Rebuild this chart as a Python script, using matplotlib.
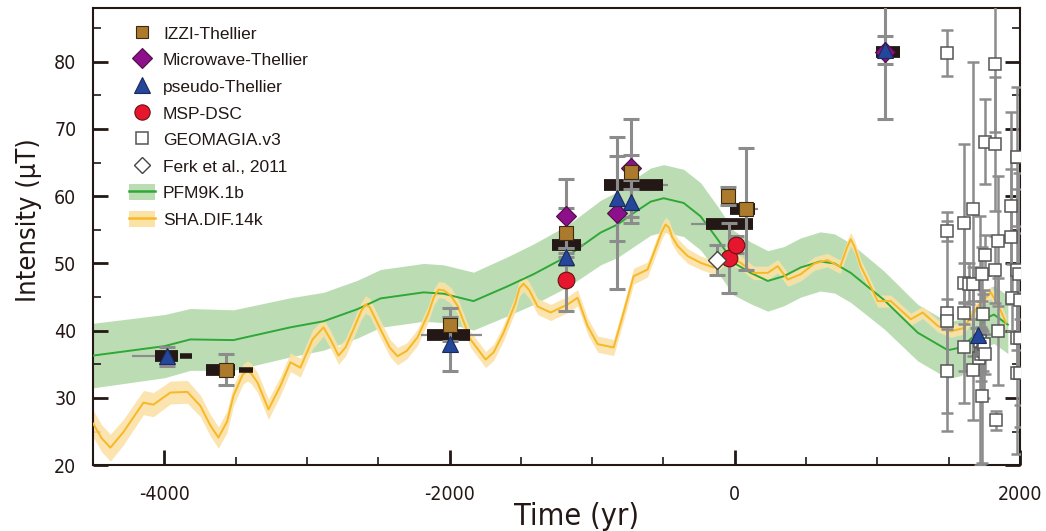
import matplotlib
matplotlib.use("Agg")
import matplotlib.pyplot as plt
import numpy as np
from matplotlib.patches import Patch
from matplotlib.lines import Line2D

plt.rcParams["axes.unicode_minus"] = False

# ---- model curves ----
pfm_t = [-4500, -4000, -3818, -3516, -3116, -2884, -2646, -2484, -2182, -2042,
         -1832, -1593, -1411, -1172, -940, -821, -709, -589, -498, -358, -239,
         -120, -7, 112, 232, 344, 463, 600, 700, 814, 1046, 1284, 1495, 1586,
         1705, 1747, 1818, 1916]
pfm_f = [36.3, 37.7, 38.7, 38.6, 40.5, 41.4, 43.2, 44.8, 45.7, 45.5,
         44.4, 46.6, 48.4, 51.1, 54.6, 55.8, 57.5, 59.2, 59.7, 59.0, 57.0,
         53.6, 50.1, 48.6, 47.4, 48.1, 49.4, 50.3, 50.0, 48.6, 44.6, 39.7, 37.1, 37.5,
         39.7, 41.7, 42.4, 40.9]
pfm_err = [4.8, 4.7, 4.6, 4.5, 4.4, 4.3, 4.3, 4.3, 4.3, 4.3,
           4.3, 4.4, 4.5, 4.6, 4.8, 4.9, 5.0, 5.0, 5.0, 5.0, 5.0,
           4.9, 4.8, 4.6, 4.5, 4.4, 4.4, 4.4, 4.4, 4.4, 4.3, 4.2, 4.2, 4.2,
           4.2, 4.2, 4.3, 4.3]

sha_t = [-4500, -4440, -4379, -4288, -4147, -4077, -3958, -3839, -3747, -3680,
         -3621, -3560, -3516, -3450, -3418, -3390, -3347, -3270, -3186, -3116,
         -3046, -2961, -2884, -2830, -2779, -2730, -2674, -2620, -2589, -2560,
         -2484, -2420, -2365, -2300, -2225, -2150, -2110, -2077, -2040, -1990,
         -1944, -1853, -1747, -1690, -1621, -1540, -1510, -1481, -1440, -1382,
         -1291, -1172, -1102, -1032, -961, -849, -779, -709, -611, -540,
         -510, -484, -460, -440, -400, -330, -239, -147, -49, 42,
         133, 232, 302, 372, 463, 560, 650, 740, 790, 814,
         840, 884, 1003, 1095, 1235, 1319, 1425, 1516, 1607, 1705,
         1796, 1853, 1902]
sha_f = [26.2, 24.0, 22.6, 24.9, 29.3, 29.0, 30.8, 30.9, 28.8, 26.0,
         24.1, 26.5, 30.3, 33.5, 34.0, 33.6, 32.3, 28.3, 31.8, 35.3,
         34.5, 38.7, 40.5, 38.5, 36.3, 37.5, 40.2, 42.9, 43.9, 43.5,
         40.2, 37.5, 36.2, 37.0, 39.0, 42.5, 45.0, 46.1, 46.0, 45.2,
         43.7, 38.7, 35.7, 36.8, 39.7, 44.0, 46.3, 47.0, 46.0, 43.6,
         42.7, 43.9, 44.9, 40.7, 38.0, 37.5, 42.7, 48.1, 49.1, 53.1,
         54.8, 55.8, 55.3, 54.0, 52.6, 51.1, 50.1, 49.4, 51.1, 50.1,
         48.6, 48.6, 49.6, 47.6, 48.4, 50.0, 50.5, 49.5, 52.5, 53.6,
         52.5, 49.6, 44.4, 44.4, 41.7, 42.7, 40.7, 39.9, 40.4, 43.6,
         45.7, 43.6, 41.2]
sha_err = [2.0, 2.0, 2.0, 1.9, 1.8, 1.8, 1.7, 1.7, 1.6, 1.6,
           1.6, 1.6, 1.5, 1.5, 1.5, 1.5, 1.5, 1.5, 1.4, 1.4,
           1.4, 1.4, 1.3, 1.3, 1.3, 1.3, 1.3, 1.3, 1.3, 1.3,
           1.3, 1.3, 1.3, 1.2, 1.2, 1.2, 1.2, 1.2, 1.2, 1.2,
           1.2, 1.2, 1.2, 1.2, 1.2, 1.2, 1.2, 1.2, 1.2, 1.2,
           1.2, 1.2, 1.2, 1.2, 1.2, 1.2, 1.2, 1.2, 1.1, 1.1,
           1.1, 1.1, 1.1, 1.1, 1.1, 1.1, 1.0, 1.0, 1.0, 1.0,
           1.0, 1.0, 1.0, 1.0, 1.0, 1.0, 1.0, 1.0, 1.0, 1.0,
           1.0, 1.0, 0.9, 0.9, 0.9, 0.9, 0.9, 0.9, 0.9, 0.9,
           0.9, 0.9, 0.9]

# ---- archaeointensity results ----
izzi_t = [-3565, -1998, -1186, -724, -49, 77]
izzi_f = [34.2, 40.9, 54.6, 63.6, 60.0, 58.1]
izzi_err = [2.3, 2.5, 3.6, 2.6, 1.3, 9.0]

mw_t = [-1186, -828, -724, 1055]
mw_f = [57.0, 57.5, 64.2, 81.5]
mw_err = [5.5, 11.3, 7.3, 10.0]

pseudo_t = [-3981, -1998, -1186, -828, -724, 1055, 1703]
pseudo_f = [36.2, 38.0, 51.0, 59.7, 59.2, 81.7, 39.4]
pseudo_err = [1.4, 4.0, 1.3, 6.3, 3.2, 2.1, 1.0]

msp_t = [-1186, -40, 11]
msp_f = [47.6, 50.8, 52.8]
msp_err = [4.7, 5.2, 1.3]

ferk_t = [-126]
ferk_f = [50.5]
ferk_err = [2.2]

# age ranges: thick black bars, thin black tails, thin grey whiskers
age_y = [36.2, 34.2, 39.3, 52.7, 61.6, 55.8, 58.1, 81.4]
age_x0 = [-4063, -3705, -2156, -1279, -919, -204, -35, 989]
age_x1 = [-3902, -3502, -1853, -1081, -505, 131, 140, 1158]
tail_y = [36.2, 34.2]
tail_x0 = [-3888, -3480]
tail_x1 = [-3804, -3375]
whisk_y = [36.2, 39.3, 52.7, 61.6, 55.8, 58.1]
whisk_x0 = [-4227, -2199, -1279, -919, -309, -35]
whisk_x1 = [-4063, -1772, -1060, -470, -204, 165]

# GEOMAGIA.v3
geo_t = [1490, 1490, 1490, 1490, 1490,
         1609, 1609, 1609, 1609, 1640,
         1673, 1673, 1673, 1715, 1720, 1730, 1735, 1737, 1740, 1745, 1750,
         1754, 1756, 1756, 1825, 1825, 1825, 1835, 1848, 1848,
         1937, 1937, 1942, 1977, 1977, 1977, 1977, 1997, 2002, 2002, 2002]
geo_f = [81.3, 54.8, 42.7, 41.4, 34.0,
         56.0, 47.1, 42.7, 37.5, 47.0,
         58.1, 46.9, 34.2, 36.0, 38.5, 36.5, 30.3, 48.4, 42.5, 37.0, 38.0,
         68.1, 51.3, 36.5, 79.6, 67.8, 49.1, 26.7, 53.3, 39.9,
         58.5, 54.0, 44.9, 65.9, 49.1, 38.9, 33.7, 48.5, 44.5, 38.9, 33.7]
geo_err = [3.4, 1.5, 2.0, 16.3, 6.2,
           11.8, 3.0, 13.4, 3.5, 3.0,
           21.8, 2.5, 7.5, 2.0, 18.5, 4.0, 10.0, 4.0, 3.0, 3.0, 8.0,
           6.3, 3.0, 3.0, 10.0, 10.0, 5.0, 1.4, 9.7, 8.0,
           14.0, 10.0, 5.0, 10.4, 12.0, 6.0, 12.0, 15.0, 10.0, 10.0, 8.0]

INK = "#231815"
GREY = "#8C8C8C"
NARROW = dict(family="DejaVu Sans", stretch="condensed")

fig = plt.figure(figsize=(10.46, 5.31), dpi=100)
ax = fig.add_axes([0.089, 0.124, 0.886, 0.861])

pfm_t_a = np.array(pfm_t)
pfm_f_a = np.array(pfm_f)
pfm_e_a = np.array(pfm_err)
sha_t_a = np.array(sha_t)
sha_f_a = np.array(sha_f)
sha_e_a = np.array(sha_err)

ax.fill_between(pfm_t_a, pfm_f_a - pfm_e_a, pfm_f_a + pfm_e_a,
                color="#BCDDB4", lw=0, zorder=1)
ax.fill_between(sha_t_a, sha_f_a - sha_e_a, sha_f_a + sha_e_a,
                color="#FBE2A6", lw=0, alpha=0.9, zorder=2)
ax.plot(pfm_t_a, pfm_f_a, color="#2EA836", lw=1.4, zorder=3)
ax.plot(sha_t_a, sha_f_a, color="#F7B825", lw=1.4, zorder=4)

# GEOMAGIA error bars and squares
ax.errorbar(geo_t, geo_f, yerr=geo_err, fmt="none", ecolor=GREY,
            elinewidth=1.8, capsize=4.5, capthick=1.8, zorder=5)
ax.plot(geo_t, geo_f, "s", ms=9, mfc="white", mec="#555555", mew=1.1,
        ls="none", zorder=6)

# age bars
ax.hlines(whisk_y, whisk_x0, whisk_x1, color=GREY, lw=1.6, zorder=6)
ax.hlines(age_y, age_x0, age_x1, color=INK, lw=8.5, zorder=7)
ax.hlines(tail_y, tail_x0, tail_x1, color=INK, lw=4.0, zorder=7)

eb_kw = dict(fmt="none", ecolor=GREY, elinewidth=2.2, capsize=5.5,
             capthick=2.2, zorder=8)
for tt, ff, ee in [(izzi_t, izzi_f, izzi_err), (mw_t, mw_f, mw_err),
                   (pseudo_t, pseudo_f, pseudo_err), (msp_t, msp_f, msp_err),
                   (ferk_t, ferk_f, ferk_err)]:
    ax.errorbar(tt, ff, yerr=ee, **eb_kw)

ax.plot(mw_t, mw_f, "D", ms=10, mfc="#8E0F8C", mec="#4a1040", mew=0.8,
        ls="none", zorder=9)
ax.plot(izzi_t, izzi_f, "s", ms=10, mfc="#AB7A2C", mec="#3a2a10", mew=0.8,
        ls="none", zorder=10)
ax.plot(pseudo_t, pseudo_f, "^", ms=12, mfc="#24479B", mec="#1a2a5a", mew=0.8,
        ls="none", zorder=11)
ax.plot(msp_t, msp_f, "o", ms=12, mfc="#E5162E", mec="#6a1010", mew=0.8,
        ls="none", zorder=12)
ax.plot(ferk_t, ferk_f, "D", ms=9, mfc="white", mec="#444444", mew=1.0,
        ls="none", zorder=12)

ax.set_xlim(-4500, 2000)
ax.set_ylim(20, 88)
ax.set_xticks([-4000, -2000, 0, 2000])
ax.set_xticks(np.arange(-4500, 2001, 500), minor=True)
ax.set_yticks([20, 30, 40, 50, 60, 70, 80])
ax.set_yticks(np.arange(20, 88, 5), minor=True)
ax.tick_params(which="both", direction="in", right=True, top=False,
               color=INK, labelcolor=INK)
ax.tick_params(which="major", length=11, width=2.0, labelsize=14)
ax.tick_params(which="minor", length=6, width=1.2)
ax.tick_params(axis="x", which="major", pad=14)
ax.tick_params(axis="y", which="major", pad=12)
for lab in ax.get_xticklabels() + ax.get_yticklabels():
    lab.set_family("DejaVu Sans")
    lab.set_stretch("condensed")
for sp in ax.spines.values():
    sp.set_color(INK)
    sp.set_linewidth(1.5)

ax.set_xlabel("Time (yr)", size=22, color=INK, **NARROW)
ax.set_ylabel("Intensity (\u03bcT)", size=19.5, color=INK, **NARROW)
ax.xaxis.set_label_coords(0.522, -0.08)
ax.yaxis.set_label_coords(-0.055, 0.535)

handles = [
    Line2D([], [], marker="s", ls="none", ms=9, mfc="#AB7A2C", mec="#3a2a10", mew=0.8),
    Line2D([], [], marker="D", ls="none", ms=10, mfc="#8E0F8C", mec="#4a1040", mew=0.8),
    Line2D([], [], marker="^", ls="none", ms=11, mfc="#24479B", mec="#1a2a5a", mew=0.8),
    Line2D([], [], marker="o", ls="none", ms=11, mfc="#E5162E", mec="#6a1010", mew=0.8),
    Line2D([], [], marker="s", ls="none", ms=8, mfc="white", mec="#555555", mew=1.1),
    Line2D([], [], marker="D", ls="none", ms=8, mfc="white", mec="#444444", mew=1.0),
    (Patch(facecolor="#BCDDB4", lw=0), Line2D([], [], color="#2EA836", lw=1.8)),
    (Patch(facecolor="#FBE2A6", lw=0), Line2D([], [], color="#F7B825", lw=1.8)),
]
labels = ["IZZI-Thellier", "Microwave-Thellier", "pseudo-Thellier", "MSP-DSC",
          "GEOMAGIA.v3", "Ferk et al., 2011", "PFM9K.1b", "SHA.DIF.14k"]
leg = ax.legend(handles, labels, loc="upper left", bbox_to_anchor=(0.022, 0.997),
                frameon=False, labelspacing=0.55, handlelength=1.5,
                handleheight=1.05, handletextpad=0.45,
                prop={"family": ["Liberation Sans", "DejaVu Sans"], "size": 12.5})
for t in leg.get_texts():
    t.set_color(INK)

fig.savefig("out.png", dpi=100, facecolor="white")
